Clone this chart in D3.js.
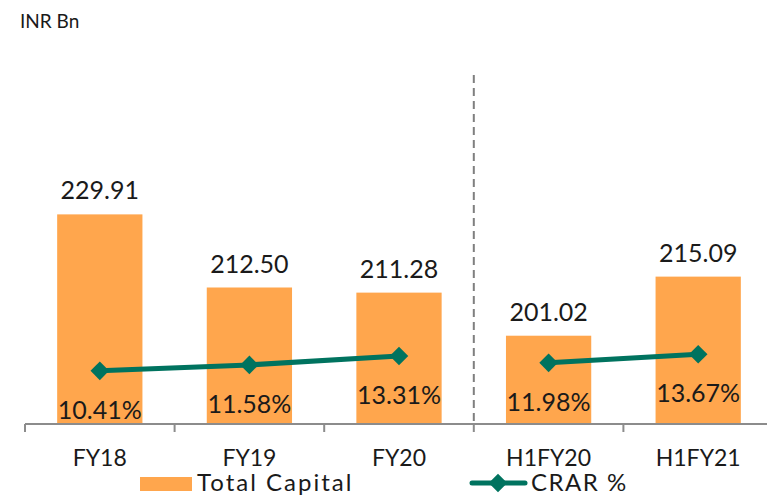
<!DOCTYPE html>
<meta charset="utf-8">
<script src="https://d3js.org/d3.v7.min.js"></script>
<style>
  body { margin: 0; background: #fff; }
  text { font-family: "Lato", "Open Sans", sans-serif; fill: #1a1a1a; }
</style>
<div id="chart"></div>
<script>
    // chart data
    var categories = ["FY18", "FY19", "FY20", "H1FY20", "H1FY21"];
    var totalCapital = [229.91, 212.50, 211.28, 201.02, 215.09];
    var crar = [10.41, 11.58, 13.31, 11.98, 13.67];
    var crarLabels = ["10.41%", "11.58%", "13.31%", "11.98%", "13.67%"];
    var lineGroups = [[0, 1, 2], [3, 4]];

    var W = 767, H = 496;
    var plotLeft = 25, plotRight = 773, base = 424, plotTop = 130;

    var svg = d3.select("#chart").append("svg")
        .attr("width", W).attr("height", H);

    var x = d3.scaleBand().domain(categories).range([plotLeft, plotRight])
        .paddingInner(0.43).paddingOuter(0.215);
    var step = x.step();

    var y = d3.scaleLinear().domain([180, 250]).range([base, plotTop]);
    var y2 = d3.scaleLinear().domain([0, 57.6]).range([base, plotTop]);

    svg.append("text").attr("x", 20).attr("y", 28)
        .style("font-size", "19px").text("INR Bn");

    // bars
    svg.selectAll(".bar").data(categories).enter().append("rect")
        .attr("x", d => x(d))
        .attr("y", (d, i) => y(totalCapital[i]))
        .attr("width", x.bandwidth())
        .attr("height", (d, i) => base - y(totalCapital[i]))
        .attr("fill", "#FFA64D");

    // axis
    var axis = svg.append("g").attr("transform", "translate(0," + base + ")");
    axis.append("line").attr("x1", plotLeft).attr("x2", W)
        .attr("stroke", "#8c8c8c").attr("stroke-width", 2);
    d3.range(categories.length).forEach(function (i) {
        var tx = plotLeft + i * step;
        axis.append("line").attr("x1", tx).attr("x2", tx).attr("y1", 0).attr("y2", 8)
            .attr("stroke", "#8c8c8c").attr("stroke-width", 2);
    });
    axis.selectAll(".cat").data(categories).enter().append("text")
        .attr("x", d => x(d) + x.bandwidth() / 2)
        .attr("y", 42)
        .attr("text-anchor", "middle")
        .style("font-size", "23px")
        .text(d => d);

    // divider
    var divX = plotLeft + 3 * step;
    svg.append("line").attr("x1", divX).attr("x2", divX).attr("y1", 75).attr("y2", base)
        .attr("stroke", "#7f7f7f").attr("stroke-width", 2).attr("stroke-dasharray", "8,5");

    // value labels
    svg.selectAll(".val").data(totalCapital).enter().append("text")
        .attr("x", (d, i) => x(categories[i]) + x.bandwidth() / 2)
        .attr("y", d => y(d) - 15)
        .attr("text-anchor", "middle")
        .style("font-size", "25px")
        .text(d => d.toFixed(2));

    // CRAR line
    var line = d3.line()
        .x(i => x(categories[i]) + x.bandwidth() / 2)
        .y(i => y2(crar[i]));
    lineGroups.forEach(function (g) {
        svg.append("path").attr("d", line(g))
            .attr("fill", "none").attr("stroke", "#00735F").attr("stroke-width", 5);
    });
    var diamond = d3.symbol().type(d3.symbolDiamond2).size(220);
    svg.selectAll(".pt").data(crar).enter().append("path")
        .attr("d", diamond)
        .attr("transform", (d, i) => "translate(" + (x(categories[i]) + x.bandwidth() / 2) + "," + y2(d) + ")")
        .attr("fill", "#00735F");

    svg.selectAll(".pct").data(crarLabels).enter().append("text")
        .attr("x", (d, i) => x(categories[i]) + x.bandwidth() / 2)
        .attr("y", (d, i) => y2(crar[i]) + 48)
        .attr("text-anchor", "middle")
        .style("font-size", "25px")
        .text(d => d);

    // legend
    var lg = svg.append("g");
    lg.append("rect").attr("x", 140).attr("y", 477).attr("width", 52).attr("height", 14)
        .attr("fill", "#FFA64D");
    lg.append("text").attr("x", 197).attr("y", 491).style("font-size", "24px")
        .style("letter-spacing", "2px").text("Total Capital");
    lg.append("line").attr("x1", 472).attr("x2", 525).attr("y1", 483).attr("y2", 483)
        .attr("stroke", "#00735F").attr("stroke-width", 5).attr("stroke-linecap", "round");
    lg.append("path").attr("d", diamond).attr("transform", "translate(498,483)").attr("fill", "#00735F");
    lg.append("text").attr("x", 531).attr("y", 491).style("font-size", "24px")
        .style("letter-spacing", "1.5px").text("CRAR %");
</script>
